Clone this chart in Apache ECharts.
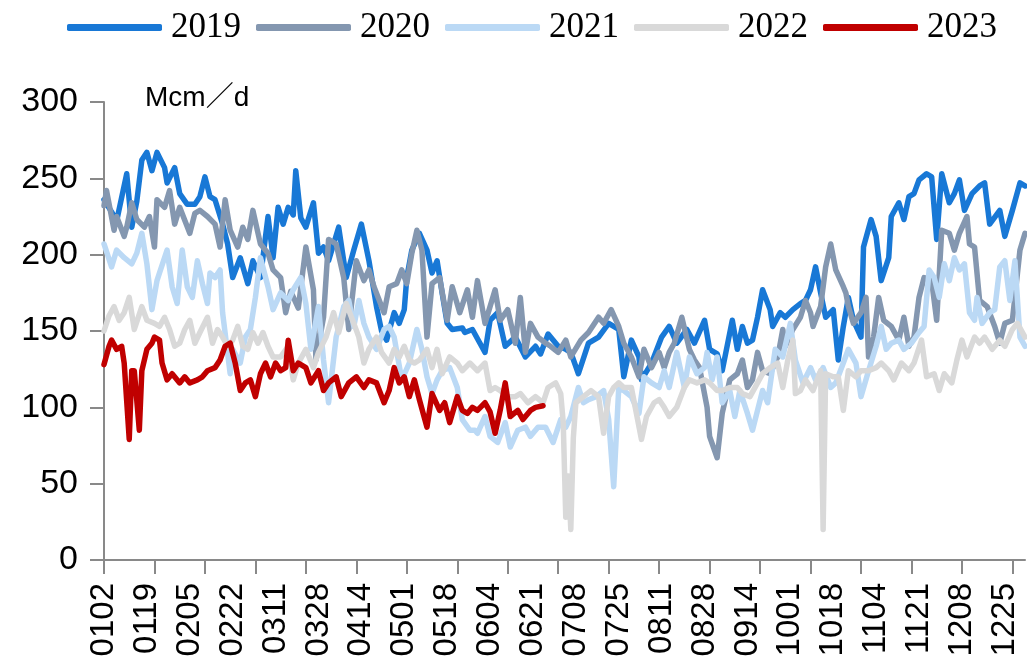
<!DOCTYPE html>
<html><head><meta charset="utf-8">
<script src="https://cdn.jsdelivr.net/npm/echarts@6/dist/echarts.min.js"></script>
<style>html,body{margin:0;padding:0;background:#fff}#c{width:1027px;height:665px}</style>
</head><body><div id="c"></div>
<script>
// Series names and colours
const seriesNames = ['2019', '2020', '2021', '2022', '2023'];
const seriesColors = ['#1878D6', '#8497B0', '#BBD9F5', '#D9D9D9', '#C00000'];
const unitLabel = 'Mcm／d';

// Y axis ticks
const yMin = 0, yMax = 300, yStep = 50;

// Categories: daily dates (MMDD) from 0102 over one year
const categories = [];
for (let d = 0; d < 366; d++) {
  const t = new Date(2019, 0, 2 + d);
  categories.push(String(t.getMonth() + 1).padStart(2, '0') + String(t.getDate()).padStart(2, '0'));
}

// Values: [day offset from 0102, Mcm/d]
const s2019 = [[0,236],[3,228],[5,222],[9,253],[11,218],[13,235],[15,262],[17,267],[19,255],[21,267],[24,257],[25,247],[28,257],[30,240],[33,233],[36,233],[38,238],[40,251],[42,238],[44,236],[47,220],[49,207],[51,185],[54,198],[57,181],[59,196],[62,185],[65,225],[67,198],[69,231],[71,220],[73,231],[75,226],[76,255],[78,224],[80,218],[83,234],[85,201],[87,205],[89,196],[93,218],[96,185],[99,203],[102,220],[105,196],[108,166],[110,150],[112,144],[115,162],[117,155],[119,164],[120,185],[122,203],[125,214],[128,203],[130,188],[132,196],[134,175],[136,155],[138,151],[142,152],[143,149],[146,151],[149,142],[151,136],[153,157],[156,162],[159,140],[163,146],[167,133],[171,140],[173,135],[176,148],[180,140],[183,138],[185,136],[188,122],[192,142],[196,146],[200,155],[204,151],[206,120],[209,144],[212,133],[213,118],[217,129],[221,146],[224,153],[227,142],[231,151],[234,142],[238,157],[240,138],[243,135],[245,124],[249,157],[251,138],[253,153],[255,142],[257,144],[259,159],[261,177],[264,164],[265,153],[268,162],[270,159],[273,164],[276,168],[278,170],[280,177],[282,192],[284,175],[286,159],[289,164],[291,131],[293,153],[295,172],[297,157],[300,146],[301,205],[304,223],[306,212],[308,183],[311,198],[312,225],[315,234],[317,223],[319,238],[321,240],[323,249],[326,253],[328,251],[330,210],[332,253],[335,234],[337,240],[339,249],[341,229],[344,240],[347,245],[349,247],[351,220],[355,229],[357,212],[360,229],[363,247],[365,245]];

const s2020 = [[0,232],[1,242],[4,216],[5,225],[8,212],[9,218],[11,234],[13,223],[16,218],[18,225],[20,205],[21,236],[24,231],[26,242],[28,220],[30,231],[34,214],[36,227],[38,229],[41,225],[44,220],[46,205],[48,236],[50,216],[53,205],[55,218],[57,210],[59,229],[62,207],[65,201],[67,190],[70,185],[72,162],[74,176],[77,165],[80,205],[83,177],[84,131],[87,159],[89,210],[92,207],[95,185],[97,151],[100,196],[103,183],[105,190],[107,179],[111,162],[113,179],[116,181],[118,190],[120,181],[122,201],[124,216],[126,203],[128,146],[130,181],[133,185],[136,157],[138,179],[141,162],[144,177],[146,159],[148,183],[151,155],[155,177],[157,157],[160,164],[163,142],[165,172],[167,136],[169,155],[172,146],[175,142],[177,140],[180,136],[183,144],[185,133],[189,144],[192,149],[196,159],[198,155],[201,164],[204,153],[206,142],[209,133],[212,120],[214,138],[217,126],[220,136],[222,126],[224,136],[226,142],[229,159],[232,138],[234,131],[236,126],[239,100],[240,81],[243,67],[245,96],[248,118],[251,122],[253,131],[255,113],[257,118],[259,136],[261,124],[264,122],[267,133],[269,151],[270,140],[273,151],[276,159],[278,170],[280,162],[281,153],[284,166],[286,192],[288,207],[290,190],[293,179],[294,175],[295,166],[297,155],[300,162],[302,172],[303,133],[305,146],[307,172],[309,157],[312,153],[315,144],[317,159],[319,140],[321,146],[323,172],[325,185],[328,183],[330,157],[332,216],[335,214],[337,203],[339,214],[342,225],[343,207],[345,205],[347,170],[350,166],[353,153],[355,142],[357,155],[360,157],[363,203],[365,214]];

const s2021 = [[0,207],[3,192],[5,203],[8,198],[11,194],[13,201],[15,214],[17,194],[19,164],[21,183],[22,188],[25,203],[27,179],[29,168],[31,203],[33,179],[35,172],[37,196],[39,181],[41,168],[42,188],[44,185],[46,190],[47,162],[50,122],[51,138],[54,129],[56,146],[58,151],[60,172],[62,198],[65,179],[67,164],[70,175],[73,170],[75,177],[78,185],[80,168],[82,138],[85,166],[87,131],[89,103],[92,146],[95,166],[97,170],[99,153],[101,170],[103,155],[105,146],[108,138],[111,151],[113,153],[115,146],[118,118],[121,129],[124,151],[126,138],[128,120],[130,109],[132,118],[134,124],[137,126],[140,113],[142,92],[145,85],[147,85],[148,83],[151,94],[153,81],[156,77],[159,90],[161,74],[164,85],[167,87],[169,81],[172,87],[175,87],[178,77],[181,92],[183,87],[185,94],[188,113],[190,103],[192,105],[195,107],[198,111],[200,92],[202,48],[204,113],[206,111],[209,107],[212,96],[214,120],[217,116],[220,113],[222,124],[224,113],[227,136],[230,113],[232,133],[235,122],[238,126],[239,136],[241,118],[243,133],[245,103],[248,111],[250,94],[252,111],[255,96],[257,85],[259,98],[261,111],[263,103],[266,138],[269,133],[272,155],[274,131],[277,116],[280,126],[282,118],[285,126],[288,113],[290,116],[293,129],[295,138],[298,129],[300,107],[303,124],[306,140],[308,153],[310,138],[312,142],[315,144],[317,138],[320,142],[323,149],[325,153],[327,190],[329,185],[331,172],[333,194],[335,183],[337,198],[339,190],[341,194],[343,162],[345,157],[346,172],[348,155],[351,162],[353,164],[355,192],[357,196],[359,170],[361,196],[363,146],[365,140]];

const s2022 = [[0,150],[2,160],[4,166],[6,157],[8,162],[10,172],[12,151],[15,166],[17,157],[20,155],[22,153],[24,159],[26,151],[28,140],[30,142],[32,151],[34,157],[36,142],[38,149],[41,159],[43,142],[45,151],[47,146],[49,140],[51,144],[53,153],[55,140],[57,138],[59,149],[61,142],[63,149],[65,140],[67,133],[70,133],[73,140],[75,118],[77,129],[80,138],[83,126],[85,136],[88,146],[91,162],[93,149],[96,168],[99,155],[101,146],[103,129],[105,138],[108,146],[110,136],[113,129],[115,138],[117,133],[119,140],[121,131],[123,129],[125,131],[128,138],[130,126],[132,138],[134,122],[137,133],[140,129],[142,124],[145,129],[148,124],[151,129],[153,111],[155,113],[157,111],[160,107],[163,107],[165,109],[168,103],[171,107],[174,103],[176,113],[179,116],[181,109],[182,90],[183,28],[184,55],[185,20],[186,80],[187,103],[190,107],[193,111],[196,107],[198,83],[200,107],[202,113],[204,116],[206,113],[209,113],[211,96],[213,79],[215,94],[218,103],[220,105],[222,100],[224,94],[227,100],[230,113],[232,118],[235,116],[238,118],[240,116],[243,111],[245,111],[248,113],[251,113],[253,109],[256,107],[259,116],[261,122],[264,126],[267,129],[269,113],[271,131],[273,144],[274,109],[276,111],[278,118],[281,111],[284,124],[285,20],[286,122],[289,120],[291,120],[293,98],[295,124],[298,120],[300,124],[303,124],[306,126],[308,129],[311,124],[313,118],[316,129],[319,124],[321,129],[324,144],[326,120],[329,122],[331,111],[333,122],[336,116],[338,131],[340,144],[342,133],[345,146],[347,142],[349,146],[352,138],[355,144],[357,140],[360,151],[362,155],[365,146]];

const s2023 = [[0,128],[2,140],[3,144],[5,138],[7,140],[8,129],[10,79],[11,124],[12,124],[14,85],[15,124],[17,138],[19,142],[20,146],[22,144],[23,129],[25,118],[27,122],[30,116],[32,120],[34,116],[37,118],[39,120],[41,124],[44,126],[46,131],[48,140],[50,142],[52,129],[54,111],[56,116],[58,118],[60,107],[62,122],[64,129],[66,120],[68,129],[70,124],[72,126],[73,144],[75,124],[77,129],[80,126],[82,116],[85,124],[87,111],[89,116],[92,120],[94,107],[97,116],[100,120],[103,113],[105,118],[108,116],[111,103],[113,111],[115,126],[117,116],[119,120],[121,107],[123,118],[125,105],[128,87],[130,109],[133,98],[135,103],[137,90],[140,107],[142,98],[144,96],[146,100],[148,98],[151,103],[153,97],[155,83],[157,98],[159,116],[161,94],[164,98],[166,92],[169,98],[171,100],[174,101]];

const seriesData = [s2019, s2020, s2021, s2022, s2023];

const axisGray = '#898989';
const chart = echarts.init(document.getElementById('c'), null, {renderer: 'canvas'});
chart.setOption({
  animation: false,
  backgroundColor: '#fff',
  color: seriesColors,
  grid: {left: 104, right: 2, top: 102, bottom: 105, containLabel: false, outerBoundsMode: 'none'},
  legend: {
    data: seriesNames,
    left: 62, top: 5,
    icon: 'roundRect',
    itemWidth: 95, itemHeight: 7, itemGap: 15,
    textStyle: {fontFamily: 'Liberation Serif', fontSize: 35, color: '#000', padding: [0, 0, 0, 4]}
  },
  graphic: [{
    type: 'text', left: 145, top: 84,
    style: {text: unitLabel, font: '28px "Liberation Sans", "Noto Sans CJK SC", sans-serif', fill: '#000'}
  }],
  xAxis: {
    type: 'category',
    data: categories,
    boundaryGap: false,
    axisLine: {lineStyle: {color: axisGray, width: 2}},
    axisTick: {show: true, interval: 19, length: 14, lineStyle: {color: axisGray, width: 2}},
    axisLabel: {interval: 16, rotate: 90, margin: 23, fontFamily: 'Liberation Sans', fontSize: 33, color: '#000'},
    splitLine: {show: false}
  },
  yAxis: {
    type: 'value',
    min: yMin, max: yMax, interval: yStep,
    axisLine: {show: true, lineStyle: {color: axisGray, width: 2}},
    axisTick: {show: true, length: 14, lineStyle: {color: axisGray, width: 2}},
    axisLabel: {margin: 26, fontFamily: 'Liberation Sans', fontSize: 34, color: '#000'},
    splitLine: {show: false}
  },
  series: seriesNames.map((name, i) => ({
    name: name,
    type: 'line',
    data: seriesData[i].map(p => [p[0], p[1]]),
    showSymbol: false,
    symbol: 'none',
    lineStyle: {width: 5.5, color: seriesColors[i], join: 'round', cap: 'round'},
    itemStyle: {color: seriesColors[i]},
    z: 2 + i
  }))
});
</script>
</body></html>
